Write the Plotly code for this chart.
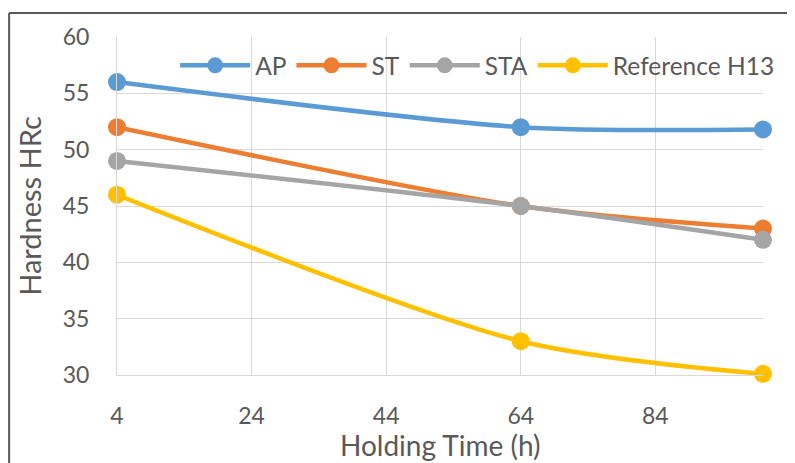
import plotly.graph_objects as go

hours = [4, 64, 100]
ap = [56, 52, 51.8]
st = [52, 45, 43]
sta = [49, 45, 42]
h13 = [46, 33, 30.1]

names = ["AP", "ST", "STA", "Reference H13"]
series = [ap, st, sta, h13]
colors = ["#5B9BD5", "#ED7D31", "#A5A5A5", "#FFC000"]
x_title = "Holding Time (h)"
y_title = "Hardness HRc"

fig = go.Figure()
for n, s, c in zip(names, series, colors):
    fig.add_trace(go.Scatter(
        x=hours, y=s, name=n, mode="lines+markers",
        line=dict(color=c, width=4.5, shape="spline", smoothing=0.8),
        marker=dict(color=c, size=18),
        cliponaxis=False,
    ))

font_family = "Lato, Open Sans, sans-serif"
fig.update_layout(
    width=795, height=463,
    margin=dict(l=109, r=40, t=29, b=96),
    paper_bgcolor="white", plot_bgcolor="white",
    font=dict(family=font_family, color="#595959", size=23),
    showlegend=True,
    legend=dict(orientation="h", x=0.09, y=0.916, xanchor="left", yanchor="middle",
                font=dict(size=24.5, color="#595959"), bgcolor="rgba(0,0,0,0)",
                itemwidth=70, tracegroupgap=0),
    xaxis=dict(range=[4, 100], tick0=4, dtick=20, showgrid=True, gridcolor="#D9D9D9",
               gridwidth=1, zeroline=False, showline=True, linecolor="#D9D9D9",
               ticks="", ticklabelstandoff=20, tickfont=dict(size=23, color="#595959")),
    yaxis=dict(range=[30, 60], dtick=5, showgrid=True, gridcolor="#D9D9D9", gridwidth=1,
               zeroline=False, showline=True, linecolor="#D9D9D9", ticks="",
               ticklabelstandoff=22, tickfont=dict(size=23, color="#595959"),
               title=dict(text=y_title, font=dict(size=29, color="#595959"), standoff=12)),
    annotations=[
        dict(text=x_title, xref="paper", yref="paper", x=0.5, y=-0.206,
             xanchor="center", yanchor="middle", showarrow=False,
             font=dict(size=28, color="#595959")),
    ],
    shapes=[
        dict(type="line", xref="paper", yref="paper", x0=-0.167, x1=1.1, y0=1.071, y1=1.071,
             line=dict(color="#595959", width=2)),
        dict(type="line", xref="paper", yref="paper", x0=-0.167, x1=-0.167, y0=1.071, y1=-0.4,
             line=dict(color="#595959", width=2)),
    ],
)

fig.write_html("out.html")
